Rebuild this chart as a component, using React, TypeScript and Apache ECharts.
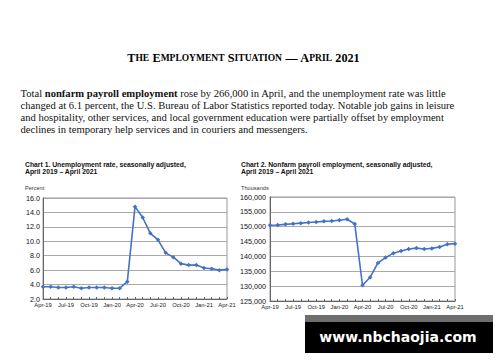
import React, { useEffect, useRef } from "react";
import * as echarts from "echarts";

const months: string[] = [
  "Apr-19", "May-19", "Jun-19", "Jul-19", "Aug-19", "Sep-19", "Oct-19", "Nov-19", "Dec-19",
  "Jan-20", "Feb-20", "Mar-20", "Apr-20", "May-20", "Jun-20", "Jul-20", "Aug-20", "Sep-20",
  "Oct-20", "Nov-20", "Dec-20", "Jan-21", "Feb-21", "Mar-21", "Apr-21",
];

const unemploymentRate: number[] = [
  3.7, 3.7, 3.6, 3.6, 3.7, 3.5, 3.6, 3.6, 3.6, 3.5, 3.5, 4.4, 14.8, 13.3, 11.1, 10.2, 8.4, 7.8,
  6.9, 6.7, 6.7, 6.3, 6.2, 6.0, 6.1,
];

const payrollEmployment: number[] = [
  150500, 150600, 150800, 151000, 151200, 151400, 151600, 151800, 151900, 152200, 152500, 150900,
  130300, 133000, 137800, 139600, 141100, 141800, 142500, 142800, 142500, 142700, 143200, 144100,
  144300,
];

const paragraphLines: string[] = [
  "{r|Total }{b|nonfarm payroll employment}{r| rose by 266,000 in April, and the unemployment rate was little}",
  "{r|changed at 6.1 percent, the U.S. Bureau of Labor Statistics reported today. Notable job gains in leisure}",
  "{r|and hospitality, other services, and local government education were partially offset by employment}",
  "{r|declines in temporary help services and in couriers and messengers.}",
];

const LINE_COLOR = "#4472c4";
const SANS = "Liberation Sans, Arial, sans-serif";
const SERIF = "Liberation Serif, Times New Roman, serif";

function lineSeries(data: number[], xIdx: number) {
  return {
    type: "line",
    xAxisIndex: xIdx,
    yAxisIndex: xIdx,
    data,
    symbol: "diamond",
    symbolSize: 4.5,
    lineStyle: { color: LINE_COLOR, width: 1.6 },
    itemStyle: { color: LINE_COLOR },
  };
}

function xAxisCfg(gridIndex: number) {
  return {
    type: "category",
    gridIndex,
    data: months,
    boundaryGap: false,
    axisLine: { lineStyle: { color: "#666", width: 1 } },
    axisTick: { show: true, inside: true, length: 2, interval: 0, lineStyle: { color: "#666" } },
    axisLabel: {
      interval: 2,
      fontSize: 5.8,
      fontFamily: SANS,
      color: "#222",
      margin: 3,
      showMaxLabel: true,
    },
    splitLine: { show: false },
  };
}

export default function App() {
  const ref = useRef<HTMLDivElement>(null);

  useEffect(() => {
    if (!ref.current) return;
    const chart = echarts.init(ref.current, undefined, { renderer: "svg" });
    const titleRich = {
      b: { fontFamily: SERIF, fontWeight: "bold", fontSize: 12.2, fill: "#000", color: "#000" },
      s: { fontFamily: SERIF, fontWeight: "bold", fontSize: 9.5, fill: "#000", color: "#000" },
    };
    chart.setOption({
      animation: false,
      backgroundColor: "#fff",
      grid: [
        { left: 43, top: 198, width: 184, height: 101, show: true, borderColor: "#999", borderWidth: 1 },
        { left: 270, top: 197, width: 185, height: 104, show: true, borderColor: "#999", borderWidth: 1 },
      ],
      xAxis: [xAxisCfg(0), xAxisCfg(1)],
      yAxis: [
        {
          type: "value",
          gridIndex: 0,
          min: 2,
          max: 16,
          interval: 2,
          axisLine: { show: true, lineStyle: { color: "#666" } },
          axisTick: { show: false },
          axisLabel: {
            fontSize: 7.2,
            fontFamily: SANS,
            color: "#111",
            margin: 3,
            formatter: (v: number) => v.toFixed(1),
          },
          splitLine: { lineStyle: { color: "#aaa", width: 1 } },
        },
        {
          type: "value",
          gridIndex: 1,
          min: 125000,
          max: 160000,
          interval: 5000,
          axisLine: { show: true, lineStyle: { color: "#666" } },
          axisTick: { show: false },
          axisLabel: {
            fontSize: 7.2,
            fontFamily: SANS,
            color: "#111",
            margin: 4,
            formatter: (v: number) => v.toLocaleString("en-US"),
          },
          splitLine: { lineStyle: { color: "#aaa", width: 1 } },
        },
      ],
      series: [lineSeries(unemploymentRate, 0), lineSeries(payrollEmployment, 1)],
      graphic: [
        {
          type: "text",
          x: 243.5,
          y: 58,
          style: {
            text: "{b|T}{s|HE} {b|E}{s|MPLOYMENT} {b|S}{s|ITUATION} {b|— A}{s|PRIL} {b|2021}",
            rich: titleRich,
            textAlign: "center",
            textVerticalAlign: "middle",
            fill: "#000",
          },
        },
        ...paragraphLines.map((t, i) => ({
          type: "text",
          x: 20.5,
          y: 93.5 + i * 12,
          style: {
            text: t,
            textAlign: "left",
            textVerticalAlign: "middle",
            fill: "#000",
            rich: {
              r: { fontFamily: SERIF, fontSize: 10.6, fill: "#111", color: "#111" },
              b: { fontFamily: SERIF, fontSize: 10.6, fontWeight: "bold", fill: "#111", color: "#111" },
            },
          },
        })),
        {
          type: "text",
          x: 25,
          y: 168,
          style: {
            text: "Chart 1. Unemployment rate, seasonally adjusted,\nApril 2019 – April 2021",
            font: `bold 6.8px ${SANS}`,
            fill: "#111",
            lineHeight: 7.6,
            textVerticalAlign: "middle",
          },
        },
        {
          type: "text",
          x: 25,
          y: 187.5,
          style: { text: "Percent", font: `5.6px ${SANS}`, fill: "#333", textVerticalAlign: "middle" },
        },
        {
          type: "text",
          x: 241,
          y: 168,
          style: {
            text: "Chart 2. Nonfarm payroll employment, seasonally adjusted,\nApril 2019 – April 2021",
            font: `bold 6.8px ${SANS}`,
            fill: "#111",
            lineHeight: 7.6,
            textVerticalAlign: "middle",
          },
        },
        {
          type: "text",
          x: 241,
          y: 188,
          style: { text: "Thousands", font: `5.6px ${SANS}`, fill: "#333", textVerticalAlign: "middle" },
        },
        {
          type: "rect",
          shape: { x: 305, y: 315, width: 188, height: 7 },
          style: { fill: "#6e6e6e" },
        },
        {
          type: "rect",
          shape: { x: 305, y: 322, width: 188, height: 31 },
          style: { fill: "#000" },
        },
        {
          type: "text",
          x: 398,
          y: 337,
          style: {
            text: "www.nbchaojia.com",
            font: `bold 14px DejaVu Sans, Verdana, sans-serif`,
            fill: "#fff",
            textAlign: "center",
            textVerticalAlign: "middle",
          },
        },
      ],
    });
    return () => chart.dispose();
  }, []);

  return (
    <div
      ref={ref}
      style={{ position: "absolute", left: 0, top: 0, width: 500, height: 362, background: "#fff" }}
    />
  );
}
